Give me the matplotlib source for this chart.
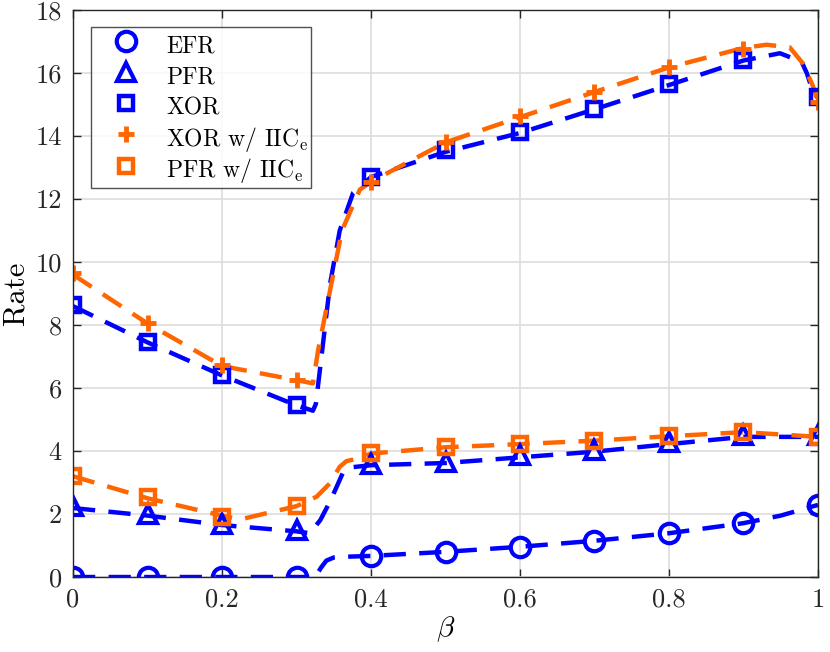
import matplotlib
matplotlib.use('Agg')
import matplotlib.pyplot as plt

# marker positions
beta = [0, 0.1, 0.2, 0.3, 0.4, 0.5, 0.6, 0.7, 0.8, 0.9, 1.0]
efr = [0, 0, 0, 0, 0.67, 0.80, 0.96, 1.15, 1.39, 1.71, 2.29]
pfr = [2.25, 2.0, 1.68, 1.48, 3.58, 3.65, 3.86, 4.03, 4.29, 4.52, 4.5]
xor = [8.63, 7.47, 6.41, 5.46, 12.71, 13.56, 14.14, 14.85, 15.66, 16.43, 15.25]
xor_iic = [9.64, 8.07, 6.73, 6.25, 12.55, 13.82, 14.63, 15.41, 16.19, 16.78, 15.09]
pfr_iic = [3.21, 2.53, 1.92, 2.25, 3.95, 4.14, 4.22, 4.33, 4.47, 4.62, 4.45]

# dashed curves (finer sampling)
efr_line_x = [0, 0.1, 0.2, 0.3, 0.325, 0.333, 0.34, 0.35, 0.36, 0.4, 0.5, 0.6, 0.7, 0.8, 0.9, 0.95, 1.0]
efr_line_y = [0, 0, 0, 0, 0, 0.3, 0.52, 0.62, 0.64, 0.67, 0.80, 0.96, 1.15, 1.39, 1.71, 1.95, 2.29]

pfr_line_x = [0, 0.1, 0.2, 0.3, 0.318, 0.332, 0.345, 0.354, 0.363, 0.376, 0.4, 0.5, 0.6, 0.7, 0.8, 0.9, 1.0]
pfr_line_y = [2.19, 1.95, 1.65, 1.45, 1.39, 1.81, 2.4, 2.87, 3.35, 3.49, 3.55, 3.62, 3.8, 3.98, 4.22, 4.45, 4.45]

xor_line_x = [0, 0.1, 0.2, 0.3, 0.322, 0.326, 0.33, 0.345, 0.358, 0.376, 0.4, 0.5, 0.6, 0.7, 0.8, 0.9,
              0.949, 0.978, 0.985, 0.991, 1.0]
xor_line_y = [8.6, 7.45, 6.4, 5.45, 5.28, 5.5, 6.3, 9.3, 11.0, 12.2, 12.7, 13.5, 14.1, 14.85, 15.62, 16.4,
              16.63, 16.36, 16.0, 15.57, 15.2]

xor_iic_line_x = [0, 0.1, 0.2, 0.3, 0.322, 0.329, 0.345, 0.361, 0.385, 0.4, 0.5, 0.6, 0.7, 0.8, 0.9,
                  0.931, 0.962, 0.98, 0.993, 1.0]
xor_iic_line_y = [9.6, 8.05, 6.7, 6.25, 6.15, 7.2, 9.1, 11.0, 12.3, 12.55, 13.8, 14.6, 15.4, 16.18, 16.8,
                  16.9, 16.82, 16.3, 15.6, 15.1]

pfr_iic_line_x = [0, 0.1, 0.2, 0.225, 0.255, 0.3, 0.327, 0.345, 0.358, 0.367, 0.38, 0.4, 0.5, 0.6, 0.7,
                  0.8, 0.9, 1.0]
pfr_iic_line_y = [3.2, 2.5, 1.95, 1.83, 2.0, 2.25, 2.55, 2.98, 3.5, 3.68, 3.75, 3.92, 4.12, 4.22, 4.33,
                  4.47, 4.6, 4.45]

labels = ['EFR', 'PFR', 'XOR', r'XOR w/ IIC$_\mathrm{e}$', r'PFR w/ IIC$_\mathrm{e}$']

blue = '#0000ff'
orange = '#ff6600'

# LaTeX-like look: computer modern shipped with matplotlib
plt.rcParams['font.family'] = ['cmr10', 'DejaVu Serif']
plt.rcParams['mathtext.fontset'] = 'cm'
plt.rcParams['axes.formatter.use_mathtext'] = True

fig = plt.figure(figsize=(8.3, 6.52), dpi=100)
ax = fig.add_axes([0.088, 0.115, 0.8975, 0.8695])

# Lines
dash = dict(lw=3.2, dashes=(5, 3))
ax.plot(efr_line_x, efr_line_y, color=blue, **dash)
ax.plot(pfr_line_x, pfr_line_y, color=blue, **dash)
ax.plot(xor_line_x, xor_line_y, color=blue, **dash)
ax.plot(xor_iic_line_x, xor_iic_line_y, color=orange, **dash)
ax.plot(pfr_iic_line_x, pfr_iic_line_y, color=orange, **dash)

# Markers
ax.plot(beta, efr, 'o', ls='none', color=blue, mfc='none', ms=14, mew=3, label=labels[0])
ax.plot(beta, pfr, '^', ls='none', color=blue, mfc='none', ms=13, mew=3, label=labels[1])
ax.plot(beta, xor, 's', ls='none', color=blue, mfc='none', ms=10, mew=3.2, label=labels[2])
ax.plot(beta, xor_iic, '+', ls='none', color=orange, ms=12, mew=3.5, label=labels[3])
ax.plot(beta, pfr_iic, 's', ls='none', color=orange, mfc='none', ms=10, mew=3.2, label=labels[4])

ax.set_xlim(0, 1)
ax.set_ylim(0, 18)
ax.set_xticks([0, 0.2, 0.4, 0.6, 0.8, 1])
ax.set_xticklabels(['0', '0.2', '0.4', '0.6', '0.8', '1'])
ax.set_yticks(range(0, 19, 2))
ax.set_yticklabels([str(v) for v in range(0, 19, 2)])
ax.grid(True, color='#dddddd', lw=1.2)
ax.set_axisbelow(True)
for s in ax.spines.values():
    s.set_color('#262626')
    s.set_linewidth(1.0)
ax.tick_params(direction='in', length=6, width=1, top=True, right=True,
               labelsize=19, colors='#262626', pad=8)

ax.set_xlabel(r'$\beta$', fontsize=21, labelpad=2)
ax.set_ylabel('Rate', fontsize=22, labelpad=4)

# even rows: handle height sets the row height
leg = ax.legend(loc='upper left', bbox_to_anchor=(0.024, 0.970), borderaxespad=0,
                fontsize=17, frameon=True, fancybox=False, edgecolor='#262626',
                handlelength=2.8, handleheight=1.65, handletextpad=0.3,
                labelspacing=0.0, borderpad=0.1)
leg.get_frame().set_linewidth(1.0)

fig.savefig('out.png', dpi=100)
